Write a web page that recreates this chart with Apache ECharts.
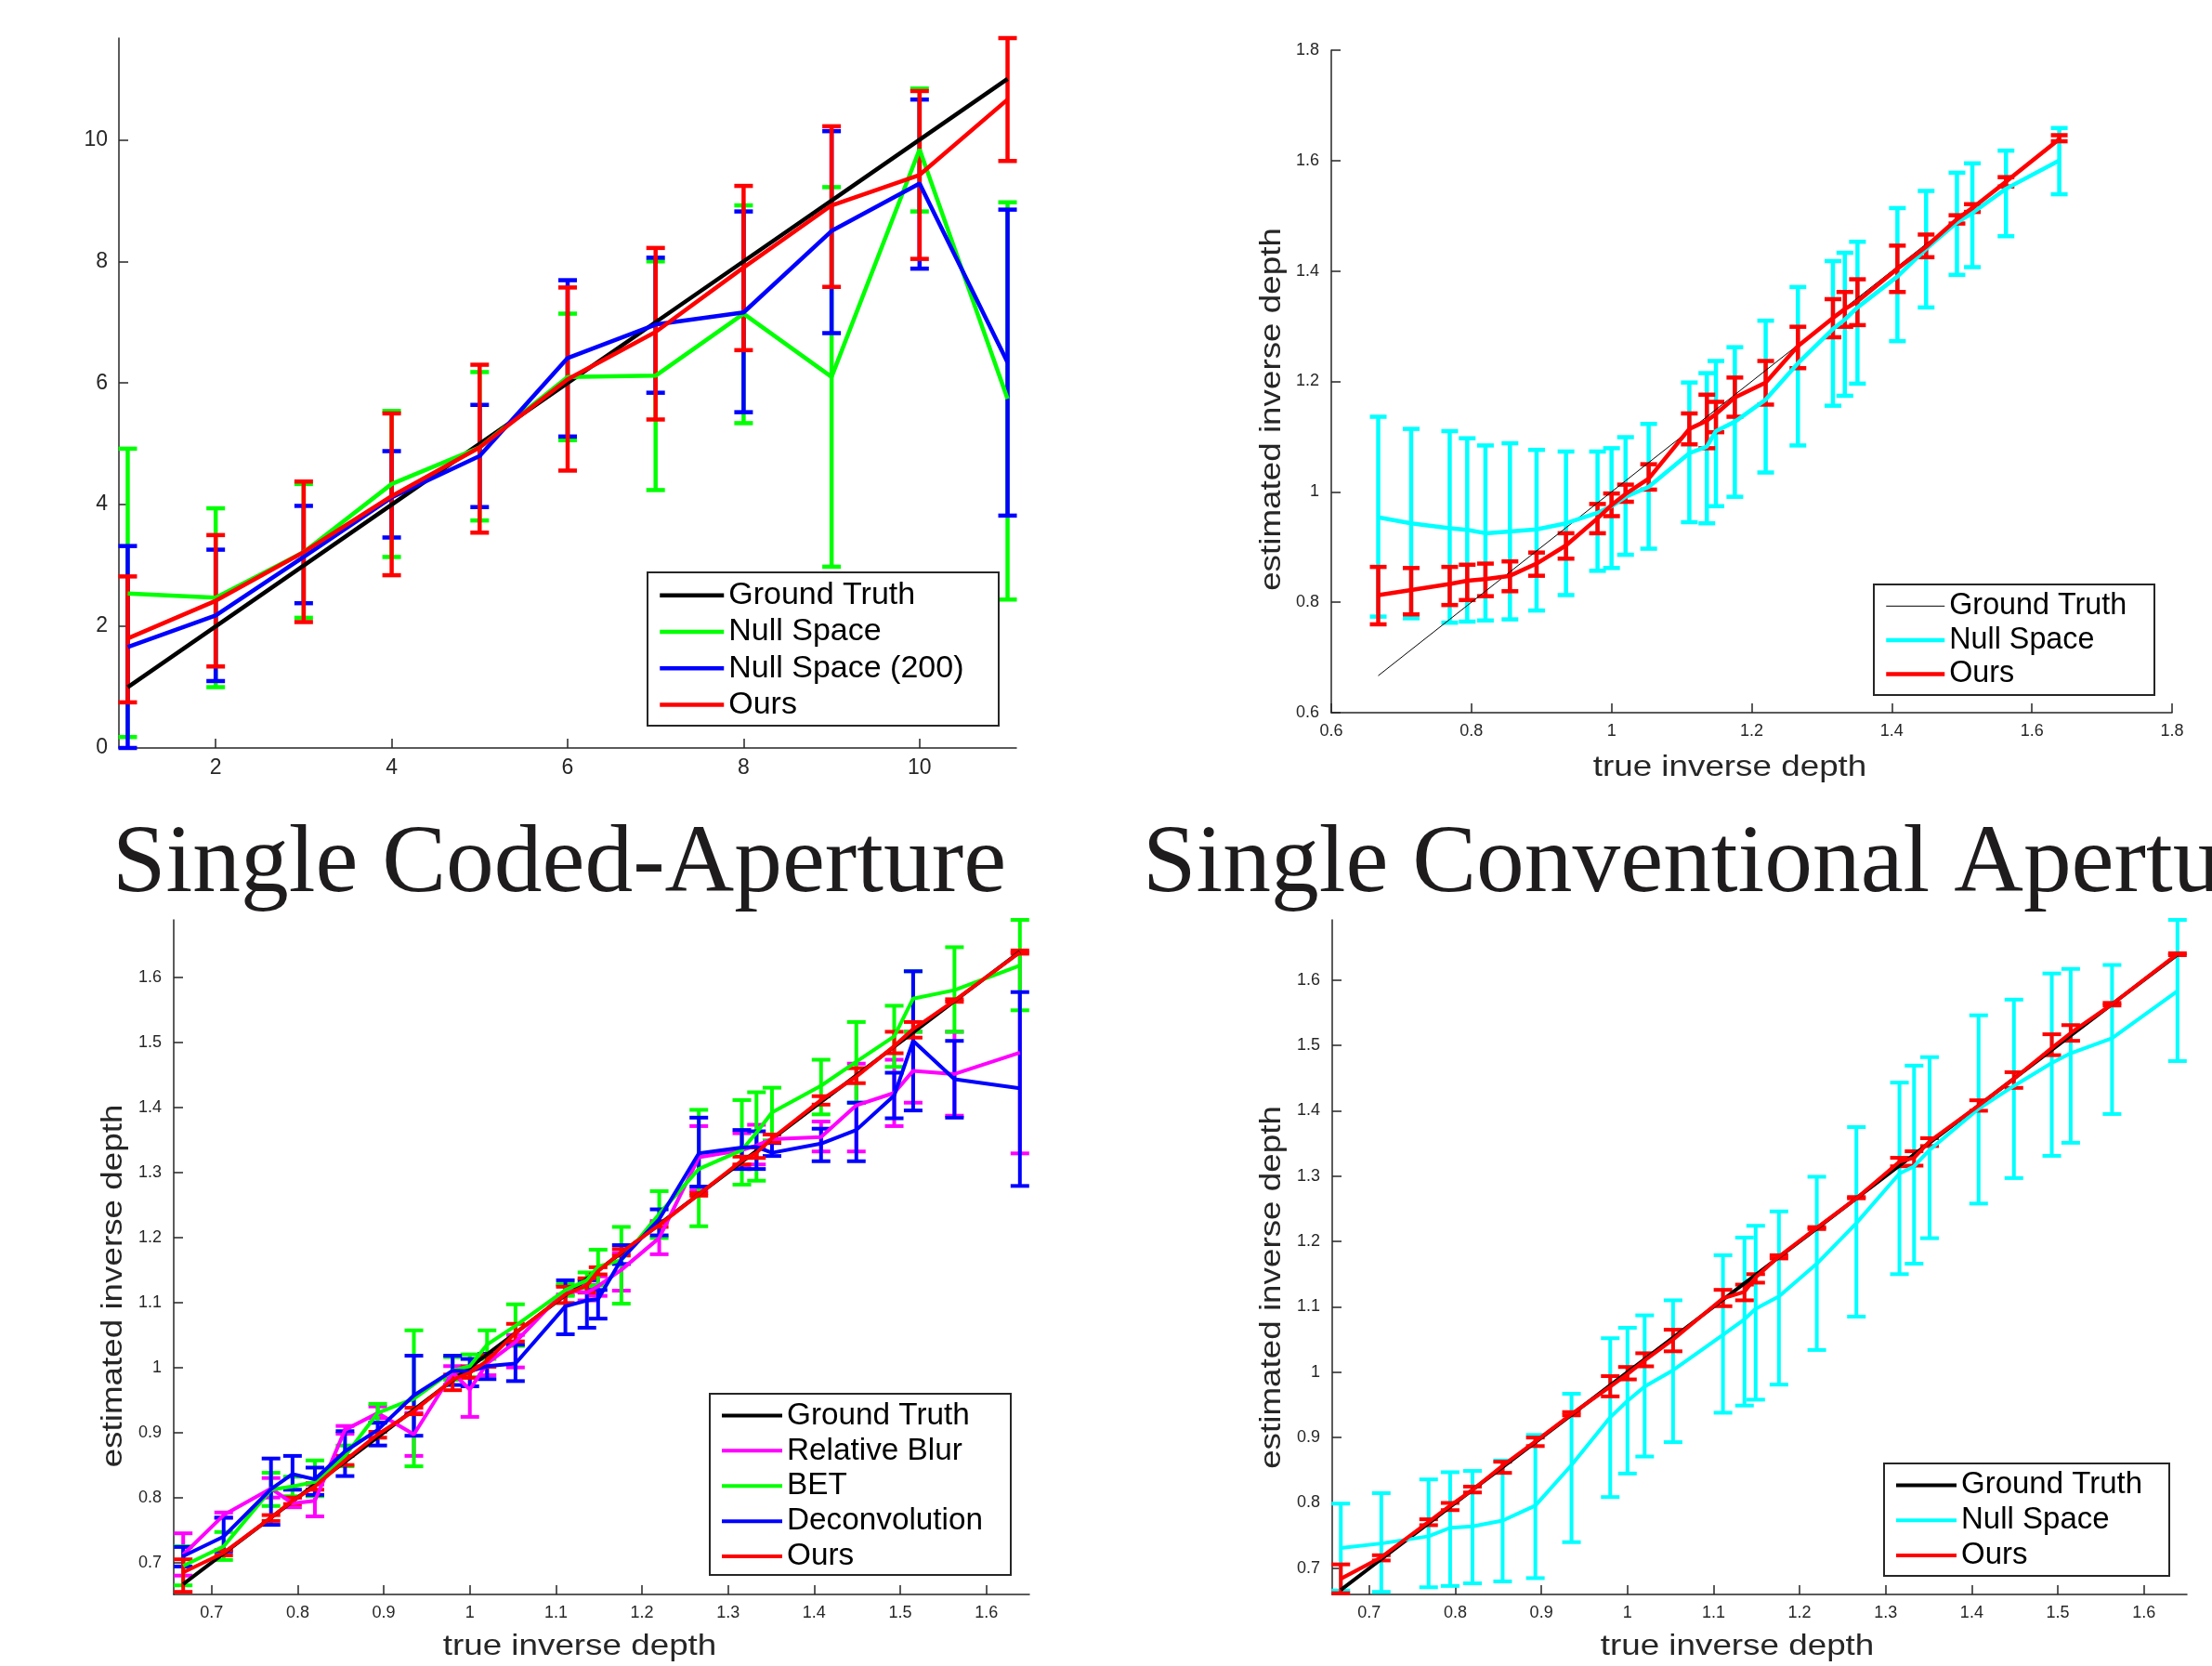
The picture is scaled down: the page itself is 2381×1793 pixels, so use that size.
<!DOCTYPE html>
<html>
<head>
<meta charset="utf-8">
<script src="https://cdn.jsdelivr.net/npm/echarts@6/dist/echarts.min.js"></script>
<style>
html,body{margin:0;padding:0;background:#fff;}
#chart{width:2381px;height:1793px;}
</style>
</head>
<body>
<div id="chart"></div>
<script>
// ---------------- Panel 1 (top-left) ----------------
const p1X = [1, 2, 3, 4, 5, 6, 7, 8, 9, 10, 11];
const p1Truth = [1, 2, 3, 4, 5, 6, 7, 8, 9, 10, 11];
const p1Null = [2.54, 2.47, 3.22, 4.34, 4.94, 6.10, 6.12, 7.14, 6.10, 9.84, 5.74];
const p1NullLo = [0.18, 1.00, 2.14, 3.14, 3.74, 5.06, 4.24, 5.34, 2.98, 8.82, 2.44];
const p1NullHi = [4.92, 3.94, 4.34, 5.54, 6.18, 7.14, 8.00, 8.92, 9.22, 10.84, 8.97];
const p1Null200 = [1.66, 2.18, 3.14, 4.12, 4.80, 6.41, 6.96, 7.16, 8.50, 9.28, 6.34];
const p1Null200Lo = [0.00, 1.10, 2.38, 3.46, 3.96, 5.12, 5.84, 5.52, 6.82, 7.88, 3.82];
const p1Null200Hi = [3.32, 3.26, 3.98, 4.88, 5.64, 7.69, 8.06, 8.82, 10.14, 10.66, 8.85];
const p1Ours = [1.80, 2.42, 3.22, 4.14, 4.94, 6.06, 6.84, 7.90, 8.92, 9.42, 10.66];
const p1OursLo = [0.75, 1.34, 2.07, 2.84, 3.54, 4.56, 5.40, 6.54, 7.58, 8.04, 9.65];
const p1OursHi = [2.82, 3.50, 4.38, 5.50, 6.30, 7.57, 8.22, 9.24, 10.22, 10.80, 11.67];
const p1XTicks = [2, 4, 6, 8, 10];
const p1YTicks = [0, 2, 4, 6, 8, 10];

// shared true inverse depths (panels 2-4)
const depthX = [0.667, 0.714, 0.769, 0.794, 0.820, 0.855, 0.893, 0.935, 0.980, 1.000, 1.020, 1.053, 1.111, 1.136, 1.149, 1.176, 1.220, 1.266, 1.316, 1.333, 1.351, 1.408, 1.449, 1.493, 1.515, 1.563, 1.639];
const depthTruth = [0.667, 0.714, 0.769, 0.794, 0.820, 0.855, 0.893, 0.935, 0.980, 1.000, 1.020, 1.053, 1.111, 1.136, 1.149, 1.176, 1.220, 1.266, 1.316, 1.333, 1.351, 1.408, 1.449, 1.493, 1.515, 1.563, 1.639];

// ---------------- Panel 2 (top-right) ----------------
const p2Null = [0.954, 0.943, 0.934, 0.931, 0.925, 0.928, 0.932, 0.943, 0.962, 0.974, 0.991, 1.009, 1.070, 1.082, 1.110, 1.127, 1.167, 1.233, 1.295, 1.312, 1.334, 1.390, 1.440, 1.488, 1.505, 1.549, 1.600];
const p2NullLo = [0.774, 0.771, 0.763, 0.765, 0.767, 0.769, 0.785, 0.813, 0.857, 0.862, 0.886, 0.897, 0.945, 0.943, 0.974, 0.991, 1.035, 1.084, 1.156, 1.174, 1.196, 1.273, 1.334, 1.393, 1.407, 1.463, 1.539];
const p2NullHi = [1.136, 1.114, 1.110, 1.097, 1.084, 1.088, 1.076, 1.073, 1.073, 1.079, 1.099, 1.123, 1.198, 1.215, 1.237, 1.262, 1.310, 1.371, 1.418, 1.433, 1.453, 1.514, 1.545, 1.578, 1.595, 1.618, 1.659];
const p2Ours = [0.813, 0.822, 0.833, 0.839, 0.842, 0.848, 0.870, 0.903, 0.952, 0.976, 0.996, 1.024, 1.114, 1.129, 1.141, 1.171, 1.198, 1.264, 1.315, 1.331, 1.345, 1.404, 1.444, 1.494, 1.514, 1.562, 1.639];
const p2OursLo = [0.760, 0.778, 0.795, 0.804, 0.811, 0.820, 0.848, 0.879, 0.925, 0.956, 0.982, 1.004, 1.086, 1.079, 1.108, 1.136, 1.158, 1.224, 1.280, 1.299, 1.302, 1.362, 1.425, 1.486, 1.507, 1.553, 1.635];
const p2OursHi = [0.864, 0.862, 0.864, 0.868, 0.870, 0.874, 0.890, 0.925, 0.978, 0.997, 1.013, 1.050, 1.142, 1.176, 1.163, 1.207, 1.237, 1.299, 1.349, 1.362, 1.385, 1.446, 1.466, 1.501, 1.521, 1.570, 1.646];
const p2Ticks = [0.6, 0.8, 1.0, 1.2, 1.4, 1.6, 1.8];

// ---------------- Panel 3 (bottom-left) ----------------
const p3Blur = [0.712, 0.773, 0.814, 0.791, 0.795, 0.904, 0.930, 0.897, 0.992, 0.966, 1.006, 1.039, 1.119, 1.115, 1.125, 1.150, 1.199, 1.323, 1.334, 1.341, 1.351, 1.354, 1.403, 1.422, 1.456, 1.451, 1.484];
const p3BlurLo = [0.680, 0.769, 0.800, 0.785, 0.771, 0.898, 0.922, 0.864, 0.983, 0.924, 0.988, 1.000, 1.112, 1.103, 1.110, 1.118, 1.174, 1.272, 1.310, 1.312, 1.345, 1.332, 1.332, 1.371, 1.407, 1.387, 1.329];
const p3BlurHi = [0.745, 0.777, 0.830, 0.800, 0.820, 0.910, 0.940, 0.930, 1.002, 1.002, 1.017, 1.050, 1.126, 1.127, 1.140, 1.176, 1.225, 1.371, 1.360, 1.373, 1.358, 1.378, 1.467, 1.473, 1.516, 1.516, 1.638];
const p3Bet = [0.695, 0.725, 0.812, 0.817, 0.824, 0.864, 0.930, 0.952, 0.995, 1.002, 1.035, 1.064, 1.119, 1.134, 1.155, 1.165, 1.236, 1.305, 1.334, 1.361, 1.392, 1.433, 1.470, 1.509, 1.567, 1.580, 1.618];
const p3BetLo = [0.665, 0.704, 0.787, 0.802, 0.802, 0.848, 0.915, 0.848, 0.981, 0.985, 1.013, 1.033, 1.110, 1.122, 1.126, 1.098, 1.199, 1.217, 1.281, 1.287, 1.349, 1.389, 1.407, 1.462, 1.516, 1.516, 1.549];
const p3BetHi = [0.725, 0.747, 0.838, 0.832, 0.857, 0.880, 0.944, 1.057, 1.016, 1.020, 1.057, 1.097, 1.128, 1.146, 1.181, 1.216, 1.271, 1.396, 1.411, 1.423, 1.430, 1.473, 1.531, 1.556, 1.609, 1.646, 1.688];
const p3Deconv = [0.710, 0.740, 0.813, 0.836, 0.828, 0.871, 0.904, 0.957, 0.995, 0.994, 1.002, 1.006, 1.094, 1.103, 1.105, 1.166, 1.228, 1.329, 1.338, 1.339, 1.330, 1.344, 1.365, 1.418, 1.502, 1.443, 1.429];
const p3DeconvLo = [0.694, 0.717, 0.758, 0.812, 0.804, 0.833, 0.880, 0.895, 0.973, 0.971, 0.982, 0.979, 1.051, 1.061, 1.075, 1.159, 1.203, 1.278, 1.305, 1.305, 1.325, 1.317, 1.317, 1.383, 1.395, 1.384, 1.279];
const p3DeconvHi = [0.724, 0.769, 0.860, 0.864, 0.846, 0.902, 0.915, 1.018, 1.018, 1.013, 1.021, 1.035, 1.134, 1.134, 1.119, 1.188, 1.243, 1.384, 1.365, 1.363, 1.345, 1.367, 1.407, 1.453, 1.609, 1.502, 1.577];
const p3Ours = [0.685, 0.715, 0.769, 0.795, 0.817, 0.857, 0.897, 0.933, 0.981, 0.992, 1.010, 1.053, 1.112, 1.126, 1.148, 1.177, 1.219, 1.266, 1.318, 1.330, 1.352, 1.411, 1.447, 1.494, 1.520, 1.564, 1.638];
const p3OursLo = [0.655, 0.711, 0.764, 0.790, 0.812, 0.850, 0.892, 0.928, 0.965, 0.984, 1.001, 1.040, 1.099, 1.115, 1.143, 1.172, 1.216, 1.264, 1.312, 1.322, 1.346, 1.404, 1.437, 1.483, 1.507, 1.562, 1.636];
const p3OursHi = [0.705, 0.719, 0.773, 0.800, 0.822, 0.864, 0.901, 0.938, 0.989, 1.001, 1.019, 1.067, 1.124, 1.137, 1.154, 1.182, 1.222, 1.268, 1.324, 1.338, 1.358, 1.417, 1.460, 1.516, 1.531, 1.566, 1.641];

// ---------------- Panel 4 (bottom-right) ----------------
const p4Null = [0.731, 0.738, 0.749, 0.762, 0.764, 0.773, 0.796, 0.858, 0.931, 0.956, 0.978, 1.003, 1.057, 1.081, 1.097, 1.116, 1.166, 1.228, 1.304, 1.315, 1.340, 1.403, 1.438, 1.473, 1.488, 1.511, 1.583];
const p4NullLo = [0.666, 0.664, 0.671, 0.673, 0.677, 0.680, 0.685, 0.740, 0.809, 0.845, 0.871, 0.893, 0.938, 0.949, 0.958, 0.981, 1.034, 1.085, 1.150, 1.166, 1.205, 1.258, 1.297, 1.331, 1.351, 1.395, 1.476];
const p4NullHi = [0.799, 0.815, 0.836, 0.847, 0.849, 0.865, 0.904, 0.967, 1.052, 1.068, 1.087, 1.110, 1.179, 1.206, 1.224, 1.246, 1.299, 1.375, 1.443, 1.469, 1.482, 1.546, 1.570, 1.610, 1.617, 1.623, 1.692];
const p4Ours = [0.684, 0.717, 0.771, 0.796, 0.820, 0.857, 0.894, 0.936, 0.978, 0.997, 1.018, 1.050, 1.113, 1.123, 1.145, 1.177, 1.221, 1.266, 1.322, 1.328, 1.353, 1.408, 1.449, 1.496, 1.519, 1.563, 1.640];
const p4OursLo = [0.662, 0.712, 0.766, 0.789, 0.816, 0.846, 0.887, 0.934, 0.963, 0.989, 1.009, 1.032, 1.101, 1.110, 1.137, 1.174, 1.219, 1.266, 1.315, 1.316, 1.346, 1.400, 1.435, 1.485, 1.507, 1.561, 1.638];
const p4OursHi = [0.706, 0.720, 0.775, 0.800, 0.825, 0.863, 0.900, 0.939, 0.994, 1.008, 1.029, 1.065, 1.126, 1.134, 1.150, 1.179, 1.222, 1.268, 1.328, 1.338, 1.358, 1.416, 1.459, 1.517, 1.531, 1.565, 1.641];
const depthTicks = [0.7, 0.8, 0.9, 1.0, 1.1, 1.2, 1.3, 1.4, 1.5, 1.6];

// ---------------- helpers ----------------
const AX = '#262626';
const SANS = 'Liberation Sans';
function pairs(xs, ys) { return xs.map((x, i) => [x, ys[i]]); }
function triples(xs, lo, hi) { return xs.map((x, i) => [x, lo[i], hi[i]]); }

function lineSeries(name, g, xs, ys, color, width) {
  return {
    type: 'line', name: name, xAxisIndex: g, yAxisIndex: g,
    data: pairs(xs, ys), symbol: 'none', showSymbol: false,
    lineStyle: { color: color, width: width }, itemStyle: { color: color },
    animation: false, silent: true, clip: false
  };
}
function errSeries(name, g, xs, lo, hi, color, width, cap) {
  return {
    type: 'custom', name: name, xAxisIndex: g, yAxisIndex: g,
    data: triples(xs, lo, hi), encode: { x: 0, y: [1, 2] },
    animation: false, silent: true,
    renderItem: function (params, api) {
      const x = api.value(0), lo = api.value(1), hi = api.value(2);
      const a = api.coord([x, lo]), b = api.coord([x, hi]);
      const st = { stroke: color, lineWidth: width };
      return {
        type: 'group', children: [
          { type: 'line', shape: { x1: a[0], y1: a[1], x2: b[0], y2: b[1] }, style: st },
          { type: 'line', shape: { x1: a[0] - cap, y1: a[1], x2: a[0] + cap, y2: a[1] }, style: st },
          { type: 'line', shape: { x1: b[0] - cap, y1: b[1], x2: b[0] + cap, y2: b[1] }, style: st }
        ]
      };
    }
  };
}
function valAxis(g, min, max, ticks, fontSize, margin) {
  return {
    type: 'value', gridIndex: g, min: min, max: max,
    axisLine: { show: true, onZero: false, lineStyle: { color: AX, width: 1.5 } },
    axisTick: { show: true, inside: true, length: 10, customValues: ticks, lineStyle: { color: AX, width: 1.5 } },
    axisLabel: { show: true, customValues: ticks, fontSize: fontSize, margin: margin, color: AX, fontFamily: SANS,
      formatter: v => String(+(+v).toFixed(2)) },
    splitLine: { show: false }
  };
}
function legend(names, displays, left, top, itemWidth, fontSize, lh, widths, colors) {
  return {
    orient: 'vertical', left: left, top: top, padding: 0, itemGap: 0,
    itemWidth: itemWidth, itemHeight: 14, selectedMode: false, z: 6,
    itemStyle: { opacity: 0, borderWidth: 0 },
    data: names.map((n, i) => ({ name: n, itemStyle: { opacity: 0, borderWidth: 0 },
      lineStyle: { width: widths[i], color: colors[i], opacity: 1 } })),
    formatter: function (n) { return displays[names.indexOf(n)]; },
    textStyle: { fontSize: fontSize, lineHeight: lh, fontFamily: SANS, color: '#000' }
  };
}

const series = [];
// Panel 1
series.push(lineSeries('p1 Ground Truth', 0, p1X, p1Truth, '#000000', 4.5));
series.push(errSeries('p1e Null Space', 0, p1X, p1NullLo, p1NullHi, '#00ff00', 4.5, 10));
series.push(lineSeries('p1 Null Space', 0, p1X, p1Null, '#00ff00', 4.5));
series.push(errSeries('p1e Null Space (200)', 0, p1X, p1Null200Lo, p1Null200Hi, '#0000ff', 4.5, 10));
series.push(lineSeries('p1 Null Space (200)', 0, p1X, p1Null200, '#0000ff', 4.5));
series.push(errSeries('p1e Ours', 0, p1X, p1OursLo, p1OursHi, '#ff0000', 4.5, 10));
series.push(lineSeries('p1 Ours', 0, p1X, p1Ours, '#ff0000', 4.5));
// Panel 2
series.push(lineSeries('p2 Ground Truth', 1, depthX, depthTruth, '#000000', 1));
series.push(errSeries('p2e Null Space', 1, depthX, p2NullLo, p2NullHi, '#00ffff', 4.5, 9));
series.push(lineSeries('p2 Null Space', 1, depthX, p2Null, '#00ffff', 4.5));
series.push(errSeries('p2e Ours', 1, depthX, p2OursLo, p2OursHi, '#ff0000', 4.5, 9));
series.push(lineSeries('p2 Ours', 1, depthX, p2Ours, '#ff0000', 4.5));
// Panel 3
series.push(lineSeries('p3 Ground Truth', 2, depthX, depthTruth, '#000000', 4));
series.push(errSeries('p3e Relative Blur', 2, depthX, p3BlurLo, p3BlurHi, '#ff00ff', 4, 10));
series.push(lineSeries('p3 Relative Blur', 2, depthX, p3Blur, '#ff00ff', 4));
series.push(errSeries('p3e BET', 2, depthX, p3BetLo, p3BetHi, '#00ff00', 4, 10));
series.push(lineSeries('p3 BET', 2, depthX, p3Bet, '#00ff00', 4));
series.push(errSeries('p3e Deconvolution', 2, depthX, p3DeconvLo, p3DeconvHi, '#0000ff', 4, 10));
series.push(lineSeries('p3 Deconvolution', 2, depthX, p3Deconv, '#0000ff', 4));
series.push(errSeries('p3e Ours', 2, depthX, p3OursLo, p3OursHi, '#ff0000', 4, 10));
series.push(lineSeries('p3 Ours', 2, depthX, p3Ours, '#ff0000', 4));
// Panel 4
series.push(lineSeries('p4 Ground Truth', 3, depthX, depthTruth, '#000000', 4));
series.push(errSeries('p4e Null Space', 3, depthX, p4NullLo, p4NullHi, '#00ffff', 4, 10));
series.push(lineSeries('p4 Null Space', 3, depthX, p4Null, '#00ffff', 4));
series.push(errSeries('p4e Ours', 3, depthX, p4OursLo, p4OursHi, '#ff0000', 4, 10));
series.push(lineSeries('p4 Ours', 3, depthX, p4Ours, '#ff0000', 4));

function box(x, y, w, h) {
  return { type: 'rect', z: 3, shape: { x: x, y: y, width: w, height: h },
    style: { fill: '#fff', stroke: AX, lineWidth: 2 } };
}
function htext(t, x, y, fs, sx) {
  return { type: 'text', z: 5, x: x, y: y, scaleX: sx,
    style: { text: t, fontSize: fs, fontFamily: SANS, fill: AX, align: 'center', verticalAlign: 'middle' } };
}
function vtext(t, x, y, fs, sx) {
  return { type: 'text', z: 5, x: x, y: y, rotation: Math.PI / 2, scaleX: sx,
    style: { text: t, fontSize: fs, fontFamily: SANS, fill: AX, align: 'center', verticalAlign: 'middle' } };
}

const option = {
  backgroundColor: '#ffffff',
  animation: false,
  grid: [
    { left: 128, top: 41, width: 966, height: 764 },
    { left: 1433, top: 54, width: 905, height: 713 },
    { left: 187, top: 990, width: 921, height: 726 },
    { left: 1434, top: 990, width: 920, height: 726 }
  ],
  xAxis: [
    valAxis(0, 0.9, 11.1, p1XTicks, 23, 10),
    valAxis(1, 0.6, 1.8, p2Ticks, 18, 11),
    valAxis(2, 0.656, 1.65, depthTicks, 18, 11),
    valAxis(3, 0.657, 1.65, depthTicks, 18, 11)
  ],
  yAxis: [
    valAxis(0, 0, 11.67, p1YTicks, 23, 12),
    valAxis(1, 0.6, 1.8, p2Ticks, 18, 13),
    valAxis(2, 0.651, 1.688, depthTicks, 18, 13),
    valAxis(3, 0.66, 1.692, depthTicks, 18, 13)
  ],
  legend: [
    legend(['p1 Ground Truth', 'p1 Null Space', 'p1 Null Space (200)', 'p1 Ours'],
      ['Ground Truth', 'Null Space', 'Null Space (200)', 'Ours'], 708, 621, 69, 34, 39.3,
      [4.5, 4.5, 4.5, 4.5], ['#000000', '#00ff00', '#0000ff', '#ff0000']),
    legend(['p2 Ground Truth', 'p2 Null Space', 'p2 Ours'],
      ['Ground Truth', 'Null Space', 'Ours'], 2028, 634, 63, 32.3, 36.6,
      [1, 4.5, 4.5], ['#000000', '#00ffff', '#ff0000']),
    legend(['p3 Ground Truth', 'p3 Relative Blur', 'p3 BET', 'p3 Deconvolution', 'p3 Ours'],
      ['Ground Truth', 'Relative Blur', 'BET', 'Deconvolution', 'Ours'], 775, 1504.5, 65, 33.3, 37.9,
      [4, 4, 4, 4, 4], ['#000000', '#ff00ff', '#00ff00', '#0000ff', '#ff0000']),
    legend(['p4 Ground Truth', 'p4 Null Space', 'p4 Ours'],
      ['Ground Truth', 'Null Space', 'Ours'], 2039, 1579.5, 65, 33, 37.75,
      [4, 4, 4], ['#000000', '#00ffff', '#ff0000'])
  ],
  graphic: [
    box(697, 616, 378, 165),
    box(2017, 629, 302, 119),
    box(764, 1500, 324, 195),
    box(2028, 1575, 307, 121),
    { type: 'text', z: 5, x: 121, y: 932, scaleX: 1.004,
      style: { text: 'Single Coded-Aperture', fontSize: 103, fontFamily: 'Liberation Serif', fill: '#1f1c1d', align: 'left', verticalAlign: 'middle' } },
    { type: 'text', z: 5, x: 1230, y: 932, scaleX: 1.004,
      style: { text: 'Single Conventional Aperture', fontSize: 103, fontFamily: 'Liberation Serif', fill: '#1f1c1d', align: 'left', verticalAlign: 'middle' } },
    htext('true inverse depth', 1862, 826, 32, 1.15),
    htext('true inverse depth', 624, 1772.5, 32, 1.15),
    htext('true inverse depth', 1870, 1772.5, 32, 1.15),
    vtext('estimated inverse depth', 1369, 440.5, 32, 1.15),
    vtext('estimated inverse depth', 122, 1384, 32, 1.15),
    vtext('estimated inverse depth', 1369, 1385.5, 32, 1.15)
  ],
  series: series
};

const chart = echarts.init(document.getElementById('chart'), null, { renderer: 'canvas', width: 2381, height: 1793 });
chart.setOption(option);
</script>
</body>
</html>
